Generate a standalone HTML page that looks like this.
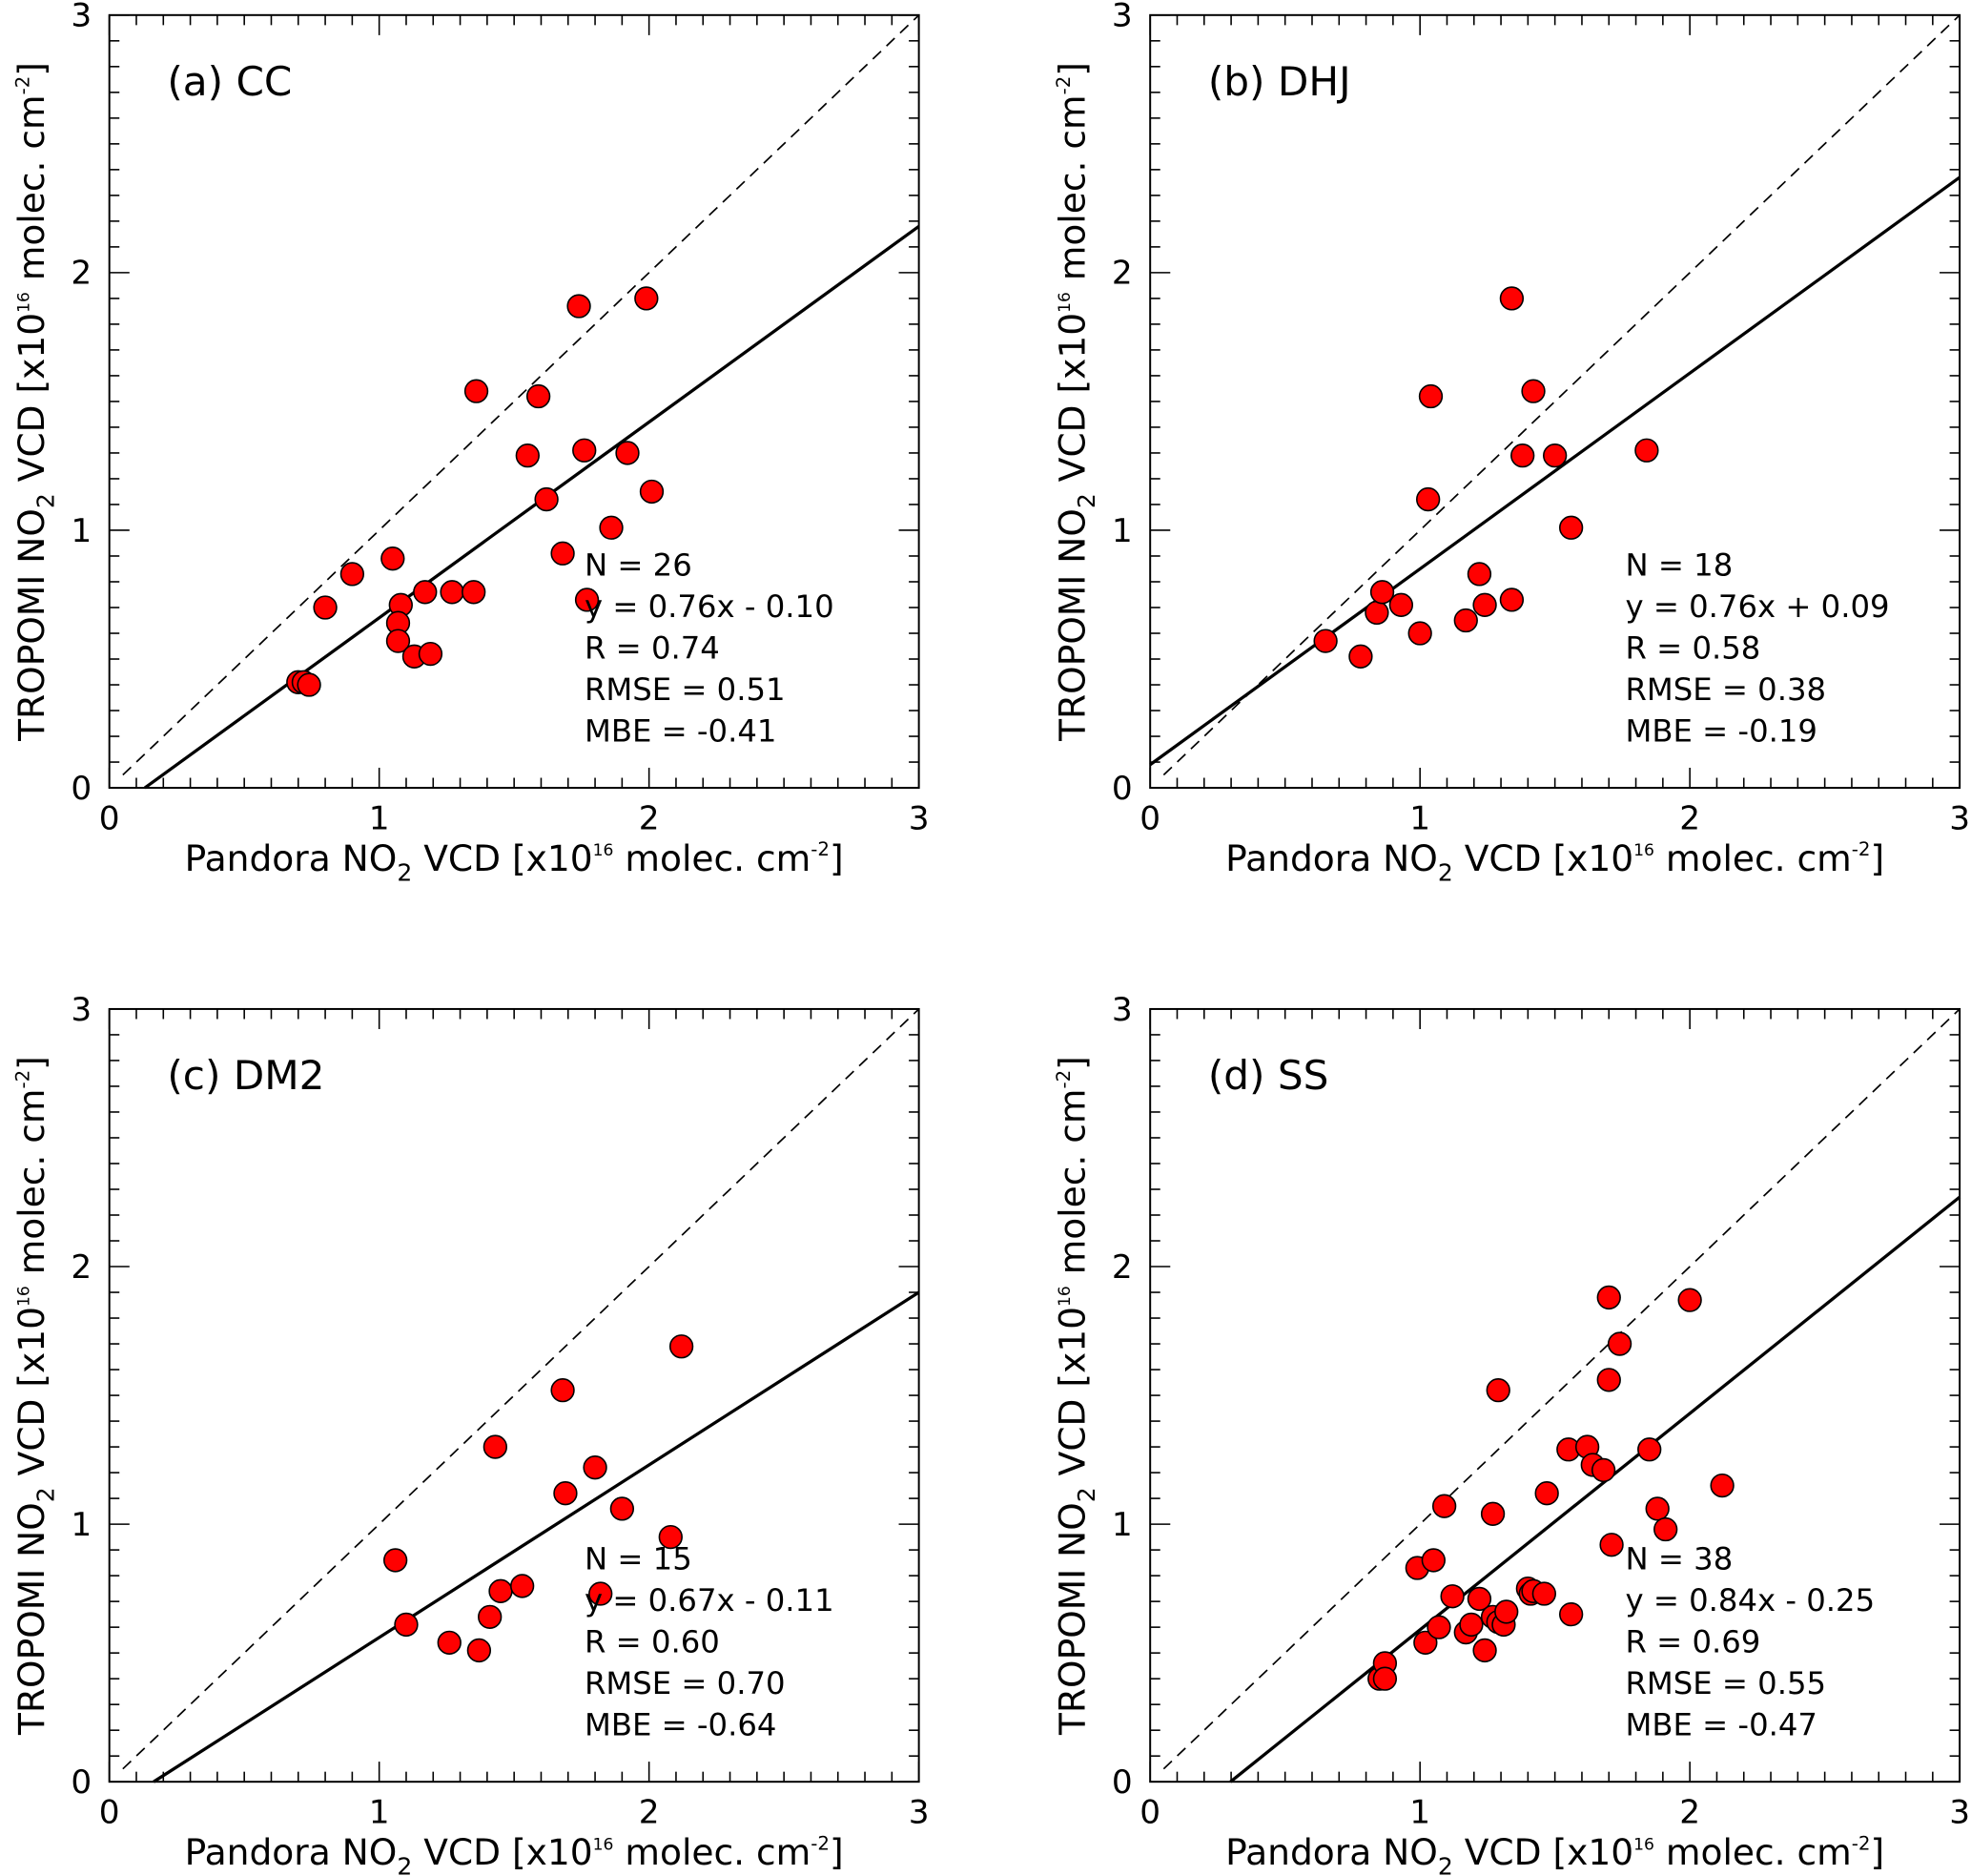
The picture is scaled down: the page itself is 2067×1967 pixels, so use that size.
<!DOCTYPE html>
<html><head><meta charset="utf-8"><style>
html,body{margin:0;padding:0;background:#fff}
svg{display:block}
text{font-family:"DejaVu Sans","Liberation Sans",sans-serif;fill:#000}
</style></head><body>
<svg id="fig" width="2067" height="1967" viewBox="0 0 1568 1493" preserveAspectRatio="none" xmlns="http://www.w3.org/2000/svg"></svg>
<script>
const panelLabels=["(a) CC","(b) DHJ","(c) DM2","(d) SS"];
const xA=[0.70,0.72,0.74,0.80,0.90,1.05,1.08,1.07,1.07,1.13,1.17,1.19,1.27,1.35,1.36,1.55,1.59,1.62,1.68,1.74,1.76,1.77,1.86,1.92,1.99,2.01];
const yA=[0.41,0.41,0.40,0.70,0.83,0.89,0.71,0.64,0.57,0.51,0.76,0.52,0.76,0.76,1.54,1.29,1.52,1.12,0.91,1.87,1.31,0.73,1.01,1.30,1.90,1.15];
const xB=[0.65,0.78,0.84,0.86,0.93,1.00,1.03,1.04,1.17,1.22,1.24,1.34,1.34,1.38,1.42,1.50,1.56,1.84];
const yB=[0.57,0.51,0.68,0.76,0.71,0.60,1.12,1.52,0.65,0.83,0.71,1.90,0.73,1.29,1.54,1.29,1.01,1.31];
const xC=[1.06,1.10,1.26,1.37,1.41,1.43,1.45,1.53,1.68,1.69,1.80,1.82,1.90,2.08,2.12];
const yC=[0.86,0.61,0.54,0.51,0.64,1.30,0.74,0.76,1.52,1.12,1.22,0.73,1.06,0.95,1.69];
const xD=[0.85,0.87,0.87,0.99,1.02,1.05,1.07,1.09,1.12,1.17,1.19,1.22,1.24,1.27,1.27,1.29,1.29,1.31,1.32,1.40,1.41,1.42,1.46,1.47,1.56,1.55,1.62,1.64,1.68,1.70,1.70,1.71,1.74,1.85,1.88,1.91,2.00,2.12];
const yD=[0.40,0.46,0.40,0.83,0.54,0.86,0.60,1.07,0.72,0.58,0.61,0.71,0.51,1.04,0.64,1.52,0.62,0.61,0.66,0.75,0.73,0.74,0.73,1.12,0.65,1.29,1.30,1.23,1.21,1.56,1.88,0.92,1.70,1.29,1.06,0.98,1.87,1.15];
const slopes=[0.76,0.76,0.67,0.84];
const intercepts=[-0.10,0.09,-0.11,-0.25];
const statsText=[["N = 26","y = 0.76x - 0.10","R = 0.74","RMSE = 0.51","MBE = -0.41"],
["N = 18","y = 0.76x + 0.09","R = 0.58","RMSE = 0.38","MBE = -0.19"],
["N = 15","y = 0.67x - 0.11","R = 0.60","RMSE = 0.70","MBE = -0.64"],
["N = 38","y = 0.84x - 0.25","R = 0.69","RMSE = 0.55","MBE = -0.47"]];
const tickVals=[0,1,2,3];
const xs=[xA,xB,xC,xD], ys=[yA,yB,yC,yD];
const origins=[[87,627],[915,627],[87,1418],[915,1418]];
const NS="http://www.w3.org/2000/svg";
const svg=document.getElementById('fig');
function mk(tag,attrs,parent){const e=document.createElementNS(NS,tag);for(const k in attrs)e.setAttribute(k,attrs[k]);(parent||svg).appendChild(e);return e;}
const W=644,H=615;
for(let p=0;p<4;p++){
  const [ox,oy]=origins[p];
  const sx=v=>ox+v/3*W, sy=v=>oy-v/3*H;
  const g=mk('g',{});
  
  
  const fr=mk('rect',{x:ox,y:oy-H,width:W,height:H,fill:'none',stroke:'#000','stroke-width':1.5},g);
  
  
  for(let i=0;i<=30;i++){
    const v=i/10, L=(i%10===0)?16:8;
    const X=sx(v), Y=sy(v);
    mk('line',{x1:X,y1:oy,x2:X,y2:oy-L,stroke:'#000','stroke-width':1.2},g);
    mk('line',{x1:X,y1:oy-H,x2:X,y2:oy-H+L,stroke:'#000','stroke-width':1.2},g);
    mk('line',{x1:ox,y1:Y,x2:ox+L,y2:Y,stroke:'#000','stroke-width':1.2},g);
    mk('line',{x1:ox+W,y1:Y,x2:ox+W-L,y2:Y,stroke:'#000','stroke-width':1.2},g);
  }
  tickVals.forEach(v=>{
    const t=mk('text',{x:sx(v),y:oy+33,'font-size':26,'text-anchor':'middle'},g);t.textContent=v;
    
    const u=mk('text',{x:ox-14,y:sy(v)+9,'font-size':26,'text-anchor':'end'},g);u.textContent=v;
    
  });
  const xt=mk('text',{x:ox+W/2,y:oy+66,'font-size':28.5,'text-anchor':'middle'},g);
  xt.innerHTML='Pandora NO<tspan font-size="19" dy="8">2</tspan><tspan dy="-8"> VCD [x10</tspan><tspan font-size="13" dy="-12">16</tspan><tspan dy="12"> molec. cm</tspan><tspan font-size="15" dy="-12">-2</tspan><tspan dy="12">]</tspan>';
  
  const yt=mk('text',{x:0,y:0,'font-size':28.5,'text-anchor':'middle',transform:`translate(${ox-52},${oy-H/2}) rotate(-90)`},g);
  yt.innerHTML='TROPOMI NO<tspan font-size="19" dy="8">2</tspan><tspan dy="-8"> VCD [x10</tspan><tspan font-size="13" dy="-12">16</tspan><tspan dy="12"> molec. cm</tspan><tspan font-size="15" dy="-12">-2</tspan><tspan dy="12">]</tspan>';
  
  const pl=mk('text',{x:ox+46,y:oy-H+64,'font-size':32},g);pl.textContent=panelLabels[p];
  
  const dl=mk('line',{x1:sx(0.05),y1:sy(0.05),x2:sx(3),y2:sy(3),stroke:'#000','stroke-width':1.3,'stroke-dasharray':'9,6'},g);
  
  const m=slopes[p],b=intercepts[p];
  const x0=b<0?-b/m:0;
  const fl=mk('line',{x1:sx(x0),y1:sy(m*x0+b),x2:sx(3),y2:sy(m*3+b),stroke:'#000','stroke-width':2.5},g);
  
  xs[p].forEach((xv,i)=>{
    const c=mk('circle',{cx:sx(xv),cy:sy(ys[p][i]),r:9,fill:'#f00',stroke:'#000','stroke-width':1.2},g);
    
    
  });
  statsText[p].forEach((s,i)=>{
    const t=mk('text',{x:ox+378,y:oy-169+i*33,'font-size':24.5},g);t.textContent=s;
    
  });
}
</script>
</body></html>
